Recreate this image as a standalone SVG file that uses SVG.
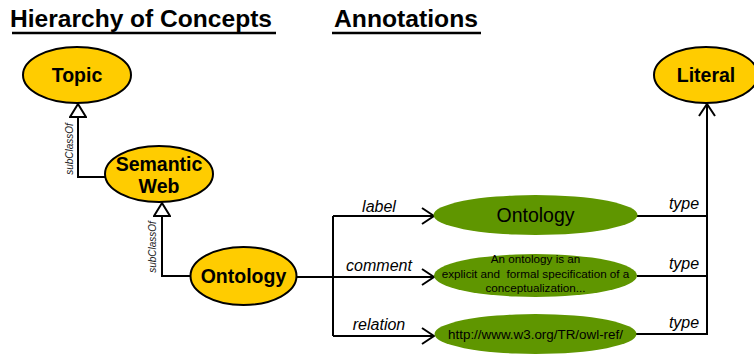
<svg xmlns="http://www.w3.org/2000/svg" width="754" height="354" viewBox="0 0 754 354">
  <defs>
    <!-- hollow triangle head for subClassOf links (points up) -->
    <marker id="hollow" viewBox="0 0 18 15" refX="9" refY="1" markerWidth="18" markerHeight="15" markerUnits="userSpaceOnUse" orient="0">
      <path d="M9,1 L17,14 L1,14 Z" fill="#fff" stroke="#000" stroke-width="2"/>
    </marker>
    <!-- open V head for property links -->
    <marker id="open" viewBox="0 0 14 18" refX="13" refY="9" markerWidth="14" markerHeight="18" markerUnits="userSpaceOnUse" orient="auto">
      <path d="M1,1 L13,9 L1,17" fill="none" stroke="#000" stroke-width="2"/>
    </marker>
  </defs>
  <style>
    .hdr { font-family: "Liberation Sans", Arial, sans-serif; font-weight: bold; font-size: 24px; fill: #000; }
    .cls { fill: #FFCC00; stroke: #000; stroke-width: 2; }
    .lit { fill: #5F9600; stroke: none; }
    .ctext { font-family: "Liberation Sans", Arial, sans-serif; font-weight: bold; font-size: 19.5px; fill: #000; text-anchor: middle; }
    .ltext { font-family: "Liberation Sans", Arial, sans-serif; fill: #000; text-anchor: middle; }
    .rel { font-family: "Liberation Sans", Arial, sans-serif; font-style: italic; font-size: 16px; fill: #000; text-anchor: middle; }
    .sub { font-family: "Liberation Sans", Arial, sans-serif; font-style: italic; font-size: 10px; fill: #222; text-anchor: middle; }
    .edge { fill: none; stroke: #000; stroke-width: 2; }
  </style>

  <!-- section headings -->
  <g id="headings">
    <text class="hdr" x="10" y="27" textLength="262" lengthAdjust="spacingAndGlyphs">Hierarchy of Concepts</text>
    <line x1="12" y1="33" x2="276" y2="33" stroke="#000" stroke-width="2.5"/>
    <text class="hdr" x="334" y="27" textLength="144" lengthAdjust="spacingAndGlyphs">Annotations</text>
    <line x1="332" y1="33" x2="481" y2="33" stroke="#000" stroke-width="2.5"/>
  </g>

  <!-- connectors -->
  <g id="connectors">
    <path class="edge" d="M105,177 H78 V104" marker-end="url(#hollow)"/>
    <path class="edge" d="M190,276 H162 V203" marker-end="url(#hollow)"/>
    <path class="edge" d="M297,277 H333"/>
    <path class="edge" d="M333,336 V216"/>
    <path class="edge" d="M333,216 H434" marker-end="url(#open)"/>
    <path class="edge" d="M333,277 H434" marker-end="url(#open)"/>
    <path class="edge" d="M333,336 H434" marker-end="url(#open)"/>
    <path class="edge" d="M637,216 H707"/>
    <path class="edge" d="M637,276 H707"/>
    <path class="edge" d="M636,334 H707 V104" marker-end="url(#open)"/>
    <text class="sub" transform="translate(73,149) rotate(-90)">subClassOf</text>
    <text class="sub" transform="translate(156,247) rotate(-90)">subClassOf</text>
    <text class="rel" x="379" y="212">label</text>
    <text class="rel" x="379" y="271">comment</text>
    <text class="rel" x="379" y="330">relation</text>
    <text class="rel" x="684" y="209">type</text>
    <text class="rel" x="684" y="269">type</text>
    <text class="rel" x="684" y="328">type</text>
  </g>

  <!-- class nodes -->
  <g id="topic">
    <ellipse class="cls" cx="77" cy="75" rx="54" ry="28"/>
    <text class="ctext" x="77" y="82">Topic</text>
  </g>
  <g id="semantic-web">
    <ellipse class="cls" cx="159" cy="174" rx="54" ry="28"/>
    <text class="ctext" x="159" y="171">Semantic</text>
    <text class="ctext" x="159" y="193">Web</text>
  </g>
  <g id="ontology">
    <ellipse class="cls" cx="243.5" cy="276" rx="53" ry="29"/>
    <text class="ctext" x="243.5" y="283">Ontology</text>
  </g>
  <g id="literal">
    <ellipse class="cls" cx="706" cy="75" rx="52" ry="28"/>
    <text class="ctext" x="706" y="82">Literal</text>
  </g>

  <!-- literal value nodes -->
  <g id="label-value">
    <ellipse class="lit" cx="535.5" cy="215" rx="102" ry="20"/>
    <text class="ltext" x="535.5" y="222" font-size="19.5">Ontology</text>
  </g>
  <g id="comment-value">
    <ellipse class="lit" cx="535.5" cy="275.5" rx="101.5" ry="21.5"/>
    <text class="ltext" x="535.5" y="263" font-size="11.7">An ontology is an</text>
    <text class="ltext" x="535.5" y="278" font-size="11.7" xml:space="preserve">explicit and  formal specification of a</text>
    <text class="ltext" x="535.5" y="292" font-size="11.7">conceptualization...</text>
  </g>
  <g id="relation-value">
    <ellipse class="lit" cx="535.5" cy="334" rx="101" ry="20"/>
    <text class="ltext" x="535.5" y="339" font-size="13.4">http://www.w3.org/TR/owl-ref/</text>
  </g>
</svg>
